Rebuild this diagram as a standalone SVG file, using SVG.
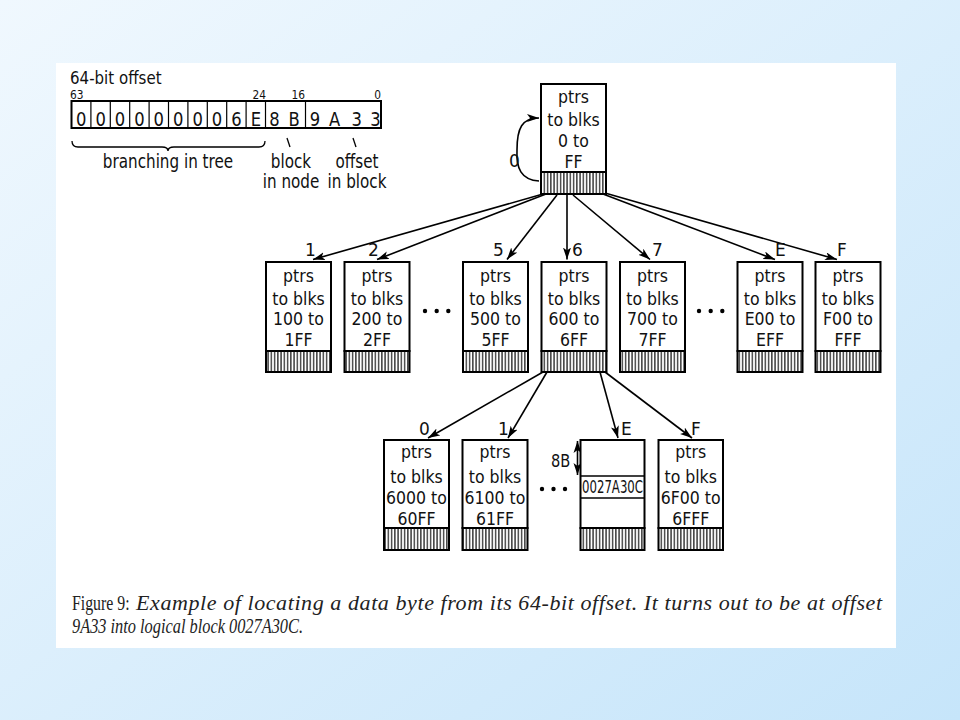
<svg xmlns="http://www.w3.org/2000/svg" width="960" height="720" viewBox="0 0 960 720">
<defs>
<linearGradient id="bg" x1="0" y1="0" x2="1" y2="1">
<stop offset="0" stop-color="#f0f8fe"/>
<stop offset="1" stop-color="#c6e5fa"/>
</linearGradient>
<pattern id="hatch" patternUnits="userSpaceOnUse" x="0" y="0" width="3.25" height="20">
<rect width="3.25" height="20" fill="#fff"/>
<line x1="1.6" y1="0" x2="1.6" y2="20" stroke="#000" stroke-width="1.1"/>
</pattern>
<marker id="ah" markerUnits="userSpaceOnUse" markerWidth="13" markerHeight="10" refX="12" refY="4" orient="auto">
<path d="M0,0 L12,4 L0,8 L3,4 Z" fill="#000"/>
</marker>
<marker id="ahs" markerUnits="userSpaceOnUse" markerWidth="13" markerHeight="10" refX="0" refY="4" orient="auto">
<path d="M12,0 L0,4 L12,8 L9,4 Z" fill="#000"/>
</marker>
</defs>
<style>
.box{fill:#fff;stroke:#000;stroke-width:2}
.hat{fill:url(#hatch);stroke:#000;stroke-width:2}
.nt{font-family:"DejaVu Sans",sans-serif;font-size:17.5px;text-anchor:middle;fill:#111}
.lb{font-family:"DejaVu Sans",sans-serif;font-size:17px;fill:#111}
.cd{font-family:"DejaVu Sans",sans-serif;fill:#111}
.dg{font-family:"DejaVu Sans",sans-serif;font-size:20px;text-anchor:middle;fill:#111}
.con{fill:none;stroke:#000;stroke-width:1.6;marker-end:url(#ah)}
.cap{font-family:"Liberation Serif","Times New Roman",serif;font-size:22px;fill:#222}
</style>
<rect x="0" y="0" width="960" height="720" fill="url(#bg)"/>
<rect x="56" y="63" width="840" height="585" fill="#fff"/>

<g id="offset-register">
<text class="cd" transform="translate(70,84) scale(0.86,1)" font-size="17.5">64-bit offset</text>
<text class="cd" transform="translate(70,99) scale(0.85,1)" font-size="12.5">63</text>
<text class="cd" transform="translate(266,99) scale(0.85,1)" font-size="12.5" text-anchor="end">24</text>
<text class="cd" transform="translate(305,99) scale(0.85,1)" font-size="12.5" text-anchor="end">16</text>
<text class="cd" transform="translate(381,99) scale(0.85,1)" font-size="12.5" text-anchor="end">0</text>
<rect x="71.5" y="101" width="309.5" height="27" fill="#fff" stroke="#000" stroke-width="2"/>
<g stroke="#000" stroke-width="1.2">
<line x1="90.9" y1="101" x2="90.9" y2="128"/>
<line x1="110.3" y1="101" x2="110.3" y2="128"/>
<line x1="129.7" y1="101" x2="129.7" y2="128"/>
<line x1="149.1" y1="101" x2="149.1" y2="128"/>
<line x1="168.5" y1="101" x2="168.5" y2="128"/>
<line x1="187.9" y1="101" x2="187.9" y2="128"/>
<line x1="207.3" y1="101" x2="207.3" y2="128"/>
<line x1="226.7" y1="101" x2="226.7" y2="128"/>
<line x1="246.1" y1="101" x2="246.1" y2="128"/>
<line x1="265.5" y1="101" x2="265.5" y2="128"/>
<line x1="305.5" y1="101" x2="305.5" y2="128"/>
</g>
<text class="dg" transform="translate(81.2,125.5) scale(0.82,1)">0</text>
<text class="dg" transform="translate(100.6,125.5) scale(0.82,1)">0</text>
<text class="dg" transform="translate(120,125.5) scale(0.82,1)">0</text>
<text class="dg" transform="translate(139.4,125.5) scale(0.82,1)">0</text>
<text class="dg" transform="translate(158.8,125.5) scale(0.82,1)">0</text>
<text class="dg" transform="translate(178.2,125.5) scale(0.82,1)">0</text>
<text class="dg" transform="translate(197.6,125.5) scale(0.82,1)">0</text>
<text class="dg" transform="translate(217,125.5) scale(0.82,1)">0</text>
<text class="dg" transform="translate(236.4,125.5) scale(0.82,1)">6</text>
<text class="dg" transform="translate(255.8,125.5) scale(0.82,1)">E</text>
<text class="dg" transform="translate(274.5,125.5) scale(0.82,1)">8</text>
<text class="dg" transform="translate(294,125.5) scale(0.82,1)">B</text>
<text class="dg" transform="translate(315,125.5) scale(0.82,1)">9</text>
<text class="dg" transform="translate(334.5,125.5) scale(0.82,1)">A</text>
<text class="dg" transform="translate(356.7,125.5) scale(0.82,1)">3</text>
<text class="dg" transform="translate(375.5,125.5) scale(0.82,1)">3</text>
<path d="M72,141 Q72,147 78,147 L162,147 Q168,147 168,151 Q168,147 174,147 L259,147 Q265,147 265,141" fill="none" stroke="#000" stroke-width="1.3"/>
<line x1="287" y1="138" x2="290" y2="147" stroke="#000" stroke-width="1.3"/>
<line x1="353" y1="138" x2="356" y2="147" stroke="#000" stroke-width="1.3"/>
<g class="cd" font-size="19" text-anchor="middle">
<text transform="translate(168,168) scale(0.8,1)">branching in tree</text>
<text transform="translate(291,168) scale(0.8,1)">block</text>
<text transform="translate(291,188) scale(0.8,1)">in node</text>
<text transform="translate(357,168) scale(0.8,1)">offset</text>
<text transform="translate(357,188) scale(0.8,1)">in block</text>
</g>
</g>

<g id="connectors">
<path class="con" d="M539,181 C521,180 516,168 517,150 C517,128 522,118 539,118"/>
<line class="con" x1="543" y1="194" x2="313" y2="259.5"/>
<line class="con" x1="546" y1="194" x2="377" y2="259.5"/>
<line class="con" x1="557" y1="195" x2="507" y2="259.5"/>
<line class="con" x1="567" y1="195" x2="567" y2="259.5"/>
<line class="con" x1="573" y1="195" x2="650" y2="259.5"/>
<line class="con" x1="603" y1="194" x2="775" y2="259.5"/>
<line class="con" x1="605" y1="193" x2="837" y2="259.5"/>
<line class="con" x1="543" y1="372" x2="428" y2="438"/>
<line class="con" x1="547" y1="372" x2="508" y2="438"/>
<line class="con" x1="600" y1="372" x2="618" y2="438"/>
<line class="con" x1="605" y1="372" x2="692" y2="438"/>
<line x1="577.5" y1="441" x2="577.5" y2="475" stroke="#000" stroke-width="1.6" marker-end="url(#ah)" marker-start="url(#ahs)"/>
<text class="lb" x="509" y="167">0</text>
<text class="lb" x="305" y="256">1</text>
<text class="lb" x="368" y="256">2</text>
<text class="lb" x="493" y="256">5</text>
<text class="lb" x="572" y="256">6</text>
<text class="lb" x="652" y="256">7</text>
<text class="lb" x="775" y="256">E</text>
<text class="lb" x="837" y="256">F</text>
<text class="lb" x="419" y="435">0</text>
<text class="lb" x="498" y="435">1</text>
<text class="lb" x="621" y="435">E</text>
<text class="lb" x="691" y="435">F</text>
<text class="lb" transform="translate(551,467) scale(0.86,1)" font-size="19">8B</text>
</g>

<g id="root">
<rect class="box" x="541" y="84" width="65" height="88"/>
<rect class="hat" x="541" y="172" width="65" height="22"/>
<g transform="translate(573.5,0) scale(0.9,1)"><text class="nt" x="0" y="103">ptrs</text><text class="nt" x="0" y="126.5">to blks</text><text class="nt" x="0" y="147">0 to</text><text class="nt" x="0" y="168">FF</text></g>
</g>

<g id="n1">
<rect class="box" x="266" y="262" width="65" height="89"/>
<rect class="hat" x="266" y="351" width="65" height="21"/>
<g transform="translate(298.5,0) scale(0.9,1)"><text class="nt" y="282">ptrs</text><text class="nt" y="305">to blks</text><text class="nt" y="325">100 to</text><text class="nt" y="346">1FF</text></g>
</g>
<g id="n2">
<rect class="box" x="344.5" y="262" width="65" height="89"/>
<rect class="hat" x="344.5" y="351" width="65" height="21"/>
<g transform="translate(377,0) scale(0.9,1)"><text class="nt" y="282">ptrs</text><text class="nt" y="305">to blks</text><text class="nt" y="325">200 to</text><text class="nt" y="346">2FF</text></g>
</g>
<g id="dots1" fill="#000"><circle cx="425" cy="311" r="2.2"/><circle cx="436.7" cy="311" r="2.2"/><circle cx="448.3" cy="311" r="2.2"/></g>
<g id="n5">
<rect class="box" x="463" y="262" width="65" height="89"/>
<rect class="hat" x="463" y="351" width="65" height="21"/>
<g transform="translate(495.5,0) scale(0.9,1)"><text class="nt" y="282">ptrs</text><text class="nt" y="305">to blks</text><text class="nt" y="325">500 to</text><text class="nt" y="346">5FF</text></g>
</g>
<g id="n6">
<rect class="box" x="541.5" y="262" width="65" height="89"/>
<rect class="hat" x="541.5" y="351" width="65" height="21"/>
<g transform="translate(574,0) scale(0.9,1)"><text class="nt" y="282">ptrs</text><text class="nt" y="305">to blks</text><text class="nt" y="325">600 to</text><text class="nt" y="346">6FF</text></g>
</g>
<g id="n7">
<rect class="box" x="620" y="262" width="65" height="89"/>
<rect class="hat" x="620" y="351" width="65" height="21"/>
<g transform="translate(652.5,0) scale(0.9,1)"><text class="nt" y="282">ptrs</text><text class="nt" y="305">to blks</text><text class="nt" y="325">700 to</text><text class="nt" y="346">7FF</text></g>
</g>
<g id="dots2" fill="#000"><circle cx="699" cy="311" r="2.2"/><circle cx="710.7" cy="311" r="2.2"/><circle cx="722.3" cy="311" r="2.2"/></g>
<g id="nE">
<rect class="box" x="737.5" y="262" width="65" height="89"/>
<rect class="hat" x="737.5" y="351" width="65" height="21"/>
<g transform="translate(770,0) scale(0.9,1)"><text class="nt" y="282">ptrs</text><text class="nt" y="305">to blks</text><text class="nt" y="325">E00 to</text><text class="nt" y="346">EFF</text></g>
</g>
<g id="nF">
<rect class="box" x="815.5" y="262" width="65" height="89"/>
<rect class="hat" x="815.5" y="351" width="65" height="21"/>
<g transform="translate(848,0) scale(0.9,1)"><text class="nt" y="282">ptrs</text><text class="nt" y="305">to blks</text><text class="nt" y="325">F00 to</text><text class="nt" y="346">FFF</text></g>
</g>

<g id="n60">
<rect class="box" x="384" y="440" width="65" height="88"/>
<rect class="hat" x="384" y="528" width="65" height="22"/>
<g transform="translate(416.5,0) scale(0.9,1)"><text class="nt" y="458">ptrs</text><text class="nt" y="483">to blks</text><text class="nt" y="504">6000 to</text><text class="nt" y="525">60FF</text></g>
</g>
<g id="n61">
<rect class="box" x="462.5" y="440" width="65" height="88"/>
<rect class="hat" x="462.5" y="528" width="65" height="22"/>
<g transform="translate(495,0) scale(0.9,1)"><text class="nt" y="458">ptrs</text><text class="nt" y="483">to blks</text><text class="nt" y="504">6100 to</text><text class="nt" y="525">61FF</text></g>
</g>
<g id="dots3" fill="#000"><circle cx="542" cy="489" r="2.2"/><circle cx="553.5" cy="489" r="2.2"/><circle cx="565" cy="489" r="2.2"/></g>
<g id="n6E">
<rect class="box" x="580.5" y="440" width="64" height="88"/>
<line x1="580.5" y1="476" x2="644.5" y2="476" stroke="#000" stroke-width="1.3"/>
<line x1="580.5" y1="498" x2="644.5" y2="498" stroke="#000" stroke-width="1.3"/>
<rect class="hat" x="580.5" y="528" width="64" height="22"/>
<text class="nt" x="612.5" y="493" font-size="13.5" textLength="61" lengthAdjust="spacingAndGlyphs">0027A30C</text>
</g>
<g id="n6F">
<rect class="box" x="658.5" y="440" width="64.5" height="88"/>
<rect class="hat" x="658.5" y="528" width="64.5" height="22"/>
<g transform="translate(690.7,0) scale(0.9,1)"><text class="nt" y="458">ptrs</text><text class="nt" y="483">to blks</text><text class="nt" y="504">6F00 to</text><text class="nt" y="525">6FFF</text></g>
</g>

<g id="caption">
<text class="cap" transform="translate(72,610) scale(0.72,1)">Figure 9:</text>
<text class="cap" x="136" y="610" font-style="italic" textLength="746" lengthAdjust="spacing">Example of locating a data byte from its 64-bit offset. It turns out to be at offset</text>
<text class="cap" x="72" y="633" font-style="italic" textLength="231" lengthAdjust="spacingAndGlyphs">9A33 into logical block 0027A30C.</text>
</g>
</svg>
